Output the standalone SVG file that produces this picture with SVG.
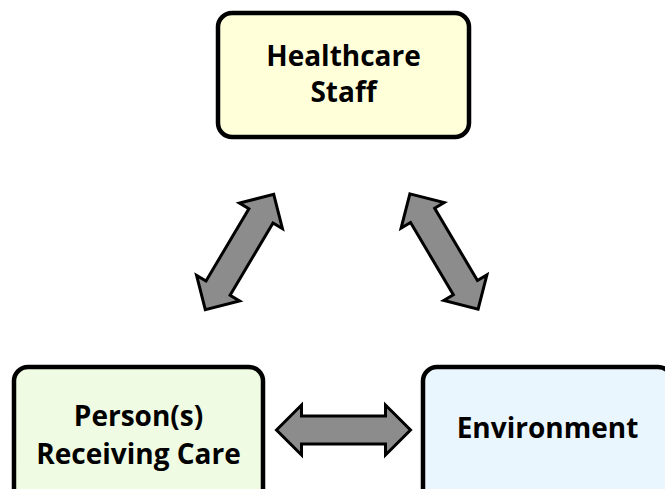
<svg xmlns="http://www.w3.org/2000/svg" width="665" height="489" viewBox="0 0 665 489">
<style>
.box{stroke:#000;stroke-width:4.5}
.lbl{font-family:"Open Sans","Noto Sans",sans-serif;font-weight:bold;font-size:28px;fill:#000;text-anchor:middle}
.arr{fill:#8c8c8c;stroke:#000;stroke-width:3;stroke-linejoin:miter}
</style>
<defs>
<path id="dbl" d="M -67 0 L -42 -25 L -42 -14 L 42 -14 L 42 -25 L 67 0 L 42 25 L 42 14 L -42 14 L -42 25 Z"/>
</defs>
<rect width="665" height="489" fill="#fff"/>
<g id="connectors">
<use href="#dbl" class="arr" transform="translate(239.5,252) rotate(-59.3)"/>
<use href="#dbl" class="arr" transform="translate(444,251.5) rotate(59.4)"/>
<use href="#dbl" class="arr" transform="translate(343.5,430)"/>
</g>
<g id="healthcare-staff">
<rect class="box" x="218" y="13" width="251" height="124" rx="14" fill="#ffffd9"/>
<text class="lbl" x="343.5" y="66">Healthcare</text>
<text class="lbl" x="343.5" y="102">Staff</text>
</g>
<g id="persons-receiving-care">
<rect class="box" x="14" y="367" width="249" height="140" rx="14" fill="#effbe3"/>
<text class="lbl" x="138.5" y="426">Person(s)</text>
<text class="lbl" x="138.5" y="464">Receiving Care</text>
</g>
<g id="environment">
<rect class="box" x="423" y="367" width="249" height="140" rx="14" fill="#eaf6fe"/>
<text class="lbl" x="547.5" y="438">Environment</text>
</g>
</svg>
